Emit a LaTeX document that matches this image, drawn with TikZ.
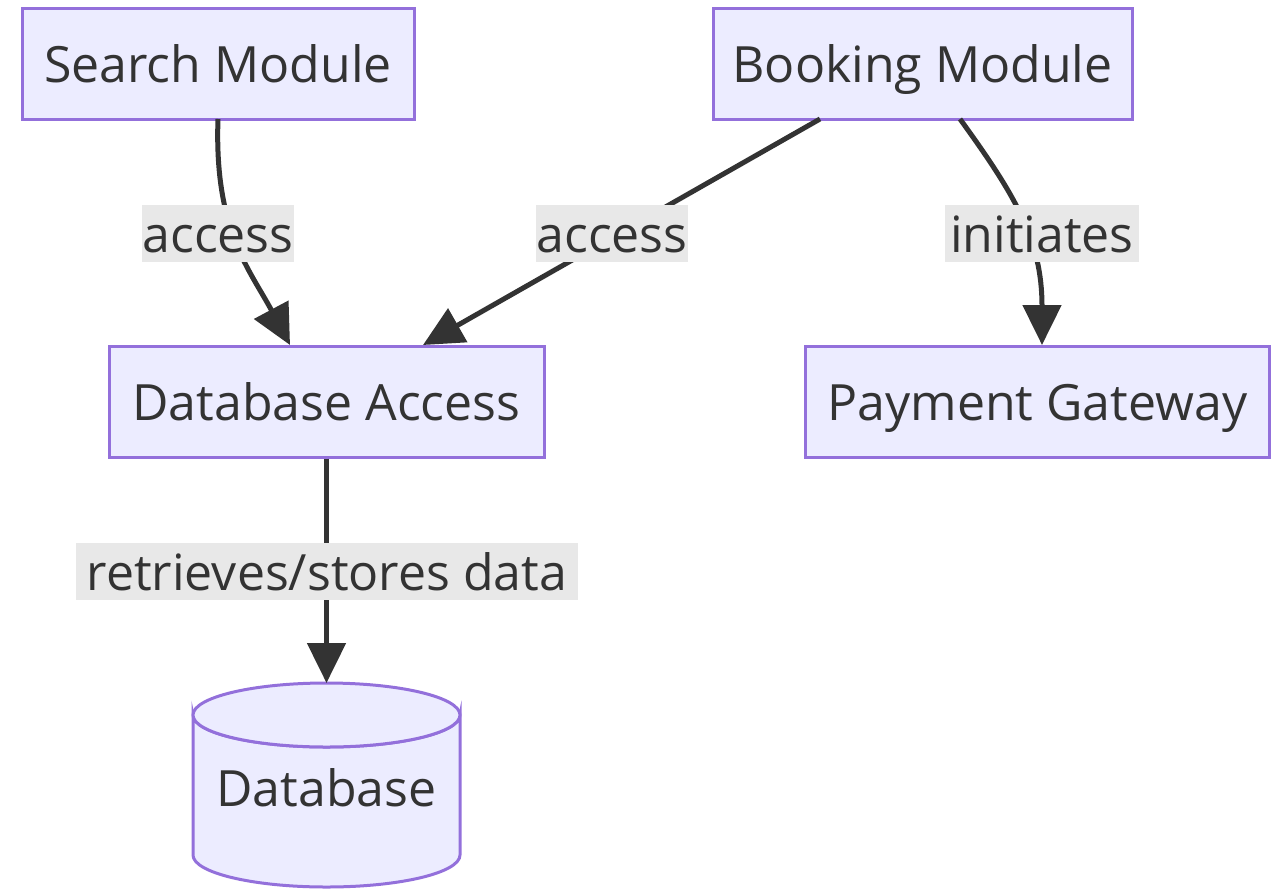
\documentclass[tikz,border=0pt]{standalone}
\usepackage{fontspec}
\setmainfont{Open Sans}
\usetikzlibrary{arrows.meta,shapes.geometric}
\definecolor{nodefill}{HTML}{ECECFF}
\definecolor{nodedraw}{HTML}{9370DB}
\definecolor{edgecol}{HTML}{333333}
\definecolor{lblbg}{HTML}{E8E8E8}
\definecolor{txtcol}{HTML}{333333}
\begin{document}
\begin{tikzpicture}[x=1pt,y=-1pt,
  box/.style={draw=nodedraw,fill=nodefill,line width=3pt,rectangle,inner sep=0pt,
     text=txtcol,font=\fontsize{50}{58}\selectfont,text height=38pt,text depth=0pt},
  lbl/.style={fill=lblbg,inner sep=0pt,text=txtcol,font=\fontsize{50}{58}\selectfont,
     minimum height=57pt,text height=37pt,text depth=0pt},
  edge/.style={draw=edgecol,line width=5pt,-{Triangle[length=40pt,width=38pt]}}
]
\useasboundingbox (0,0) rectangle (1271,889);
\node[box,minimum width=392pt,minimum height=111pt] (search) at (218,63.5) {Search Module};
\node[box,minimum width=419pt,minimum height=111pt] (booking) at (922.5,63.5) {Booking Module};
\node[box,minimum width=435pt,minimum height=111pt] (dba) at (326.5,401.5) {Database Access};
\node[box,minimum width=464pt,minimum height=111pt] (pay) at (1037.5,401.5) {Payment Gateway};
% cylinder
\path[draw=nodedraw,fill=nodefill,line width=3pt]
  (193,715) arc[start angle=180,end angle=360,x radius=133.5,y radius=-32]
  -- (460,855) arc[start angle=0,end angle=-180,x radius=133.5,y radius=-32]
  -- cycle;
\path[draw=nodedraw,fill=nodefill,line width=3pt]
  (326.5,715) ellipse[x radius=133.5,y radius=32];
\node[text=txtcol,font=\fontsize{50}{58}\selectfont,inner sep=0pt,anchor=base] (db) at (326.5,806) {Database};
\coordinate (dbtop) at (326.5,683);
% edges
\coordinate (s1) at (218,119);
\coordinate (s2) at (290,345);
\draw[edge] (s1) .. controls (214,230) and (250,270) .. (s2);
\coordinate (b1) at (820,119);
\coordinate (b2) at (423,345);
\draw[edge] (b1) -- (b2);
\coordinate (c1) at (960,119);
\coordinate (c2) at (1042,345);
\draw[edge] (c1) .. controls (1015,195) and (1042,240) .. (c2);
\draw[edge] (dba.south) -- (dbtop);
% labels
\node[lbl,minimum width=152pt] (l1) at (218,233.5) {access};
\node[lbl,minimum width=152pt] (l2) at (612,233.5) {access};
\node[lbl,minimum width=194pt] (l3) at (1042,233.5) {initiates};
\node[lbl,minimum width=502pt] (l4) at (327,571.5) {retrieves/stores data};
\end{tikzpicture}
\end{document}
